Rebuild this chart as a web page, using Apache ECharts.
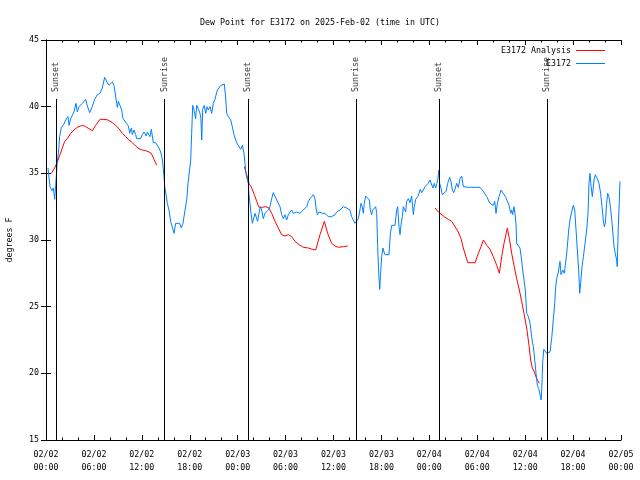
<!DOCTYPE html>
<html>
<head>
<meta charset="utf-8">
<script src="https://cdn.jsdelivr.net/npm/echarts@6/dist/echarts.min.js"></script>
<style>html,body{margin:0;padding:0;background:#fff}#c{width:640px;height:480px}</style>
</head>
<body>
<div id="c"></div>
<script>
// Hours since 2025-02-02 00:00 UTC
var xTickLabels = ['02/02\n00:00','02/02\n06:00','02/02\n12:00','02/02\n18:00','02/03\n00:00','02/03\n06:00','02/03\n12:00','02/03\n18:00','02/04\n00:00','02/04\n06:00','02/04\n12:00','02/04\n18:00','02/05\n00:00'];
var yTicks = [15, 20, 25, 30, 35, 40, 45];

var sunTimes = [1.29, 14.84, 25.33, 38.84, 49.25, 62.74];
var sunLabels = ['Sunset', 'Sunrise', 'Sunset', 'Sunrise', 'Sunset', 'Sunrise'];

// E3172 observations [hour, dew point F]
var obsTimes = [0.25,0.5,0.75,0.92,1.09,1.21,1.29,1.42,1.59,1.71,1.92,2.25,2.46,2.75,2.88,3.09,3.5,3.76,3.92,4.13,4.55,4.97,5.18,5.47,5.8,6.09,6.43,6.76,7.05,7.34,7.68,7.89,8.1,8.31,8.51,8.64,8.85,8.93,9.06,9.27,9.48,9.64,9.85,10.06,10.31,10.48,10.69,10.81,11.02,11.23,11.35,11.85,12.06,12.27,12.56,12.69,13.02,13.19,13.44,13.73,13.94,14.15,14.36,14.56,14.78,14.86,15.03,15.19,15.4,15.61,15.82,16.03,16.24,16.44,16.74,16.94,17.15,17.37,17.62,17.78,17.99,18.12,18.24,18.37,18.53,18.74,
  18.87,19.07,19.24,19.4,19.5,19.62,19.82,20.0,20.16,20.33,20.54,20.75,20.95,21.16,21.45,21.66,21.91,22.08,22.33,22.5,22.63,22.83,23.13,23.33,23.54,23.75,23.96,24.17,24.38,24.59,24.79,24.92,25.04,25.21,25.33,25.42,25.54,25.67,25.84,26.01,26.17,26.34,26.5,26.67,26.84,27.0,27.21,27.42,27.63,27.84,28.05,28.26,28.46,28.68,28.89,29.09,29.3,29.51,29.72,29.93,30.14,30.34,30.55,30.76,30.97,31.18,31.39,31.6,31.8,32.01,32.22,32.43,32.64,32.85,33.06,33.27,33.48,33.68,33.81,33.97,34.18,34.4,34.65,34.94,35.15,35.35,35.77,35.98,36.19,36.4,36.61,36.81,37.02,37.23,
  37.44,37.65,37.86,38.06,38.27,38.48,38.69,38.9,39.1,39.31,39.44,39.6,39.73,39.86,40.03,40.28,40.49,40.61,40.78,40.91,41.07,41.28,41.41,41.53,41.66,41.79,41.87,42.03,42.2,42.32,42.45,42.66,42.95,43.12,43.29,43.5,43.7,43.91,44.04,44.2,44.33,44.45,44.62,44.74,44.87,45.04,45.16,45.37,45.58,45.79,46.0,46.12,46.29,46.54,46.7,46.87,47.04,47.25,47.45,47.66,47.87,48.08,48.29,48.45,48.62,48.79,48.95,49.08,49.2,49.29,49.46,49.62,49.87,50.09,50.3,50.55,50.71,50.88,51.05,51.21,51.42,51.63,51.84,52.05,52.26,52.47,52.88,53.3,53.51,53.93,54.35,54.56,54.77,54.98,55.19,55.39,
  55.6,55.81,56.01,56.19,56.35,56.52,56.73,56.98,57.19,57.35,57.56,57.77,57.98,58.19,58.31,58.44,58.6,58.73,58.85,58.94,59.14,59.35,59.56,59.69,59.85,60.02,60.19,60.4,60.61,60.77,60.9,61.03,61.2,61.36,61.53,61.7,61.87,62.0,62.08,62.2,62.33,62.49,62.7,62.9,63.11,63.32,63.52,63.7,63.82,63.95,64.15,64.36,64.49,64.7,64.9,65.11,65.28,65.45,65.61,65.82,66.03,66.21,66.37,66.53,66.7,66.83,66.95,67.12,67.29,67.5,67.7,67.87,67.99,68.12,68.24,68.41,68.62,68.78,69.03,69.24,69.45,69.62,69.78,69.91,70.04,70.2,70.33,70.49,70.62,70.83,70.99,71.12,71.28,71.45,71.53,71.66,71.78,71.87];
var obsDewpt = [35.4,34.0,33.7,33.9,33.05,34.1,34.8,35.9,36.75,37.75,38.45,38.7,39.0,39.25,38.6,39.1,39.6,40.25,39.6,40.0,40.25,40.55,40.05,39.55,40.0,40.55,40.9,41.0,41.4,42.2,41.8,41.6,41.75,41.85,41.6,41.1,40.25,39.95,40.4,40.25,39.75,39.1,39.25,38.75,38.55,38.0,38.4,37.9,38.25,37.9,37.6,37.6,37.9,38.1,37.8,38.1,37.75,38.3,37.3,37.3,37.2,36.9,36.6,36.1,34.75,34.0,33.4,32.75,32.25,31.4,31.5,30.5,31.25,31.4,31.25,30.9,31.25,32.1,33.0,34.25,34.4,36.0,38.0,40.1,39.75,39.1,
  40.1,40.1,39.6,39.1,37.5,39.8,40.1,39.5,40.0,39.75,40.0,39.5,40.25,40.55,41.25,41.4,41.6,41.7,41.7,40.65,39.5,39.25,39.0,38.5,37.9,37.5,37.2,37.0,36.8,37.1,36.5,35.75,35.0,34.5,34.25,33.4,32.75,32.0,31.25,31.25,32.0,32.1,31.4,32.0,32.5,32.25,31.6,32.0,32.1,32.25,32.5,33.1,33.55,33.4,33.0,32.9,32.5,31.9,31.6,31.9,31.5,31.9,32.0,32.25,32.0,31.9,32.1,32.25,32.0,31.9,32.25,32.4,32.5,32.9,33.1,33.25,33.4,33.1,32.4,31.9,32.1,32.1,32.0,32.0,31.9,31.75,31.75,31.9,31.9,32.1,32.1,32.25,32.1,32.5,
  32.6,32.4,32.25,32.25,31.75,31.5,31.25,31.4,31.6,32.25,32.75,32.5,32.0,32.75,33.3,33.3,33.0,32.25,31.9,32.25,32.1,32.5,32.0,29.5,27.5,26.3,27.25,28.75,29.4,29.1,28.9,28.9,28.9,30.5,31.1,31.1,31.1,32.25,32.5,31.0,30.4,31.1,31.75,32.5,32.6,32.1,32.9,33.1,32.8,33.3,31.9,32.5,33.05,33.25,33.5,33.8,33.55,33.75,34.0,34.05,34.25,34.5,34.6,33.9,34.25,33.9,34.25,34.6,35.25,34.25,33.9,33.4,33.3,33.65,34.25,34.7,34.4,33.75,33.55,33.8,34.25,33.95,34.6,34.8,34.0,33.95,33.95,33.95,34.0,33.95,33.95,33.9,33.65,33.55,33.25,33.0,
  32.75,32.9,32.6,32.9,32.0,32.75,33.25,33.75,33.6,33.4,33.2,33.25,32.6,32.0,32.25,31.9,32.5,32.0,31.25,29.75,29.6,29.4,28.5,27.75,27.0,26.25,24.5,24.25,23.75,23.0,22.35,22.0,21.0,20.0,19.1,18.85,18.75,18.0,18.85,20.9,21.8,21.8,21.5,21.4,21.6,22.6,24.0,25.25,26.5,27.1,27.6,28.4,27.4,27.75,27.5,28.5,29.5,30.75,31.5,32.1,32.6,32.25,30.75,29.25,27.75,26.0,26.75,28.0,28.75,29.75,30.75,32.0,34.25,35.0,34.1,33.25,34.5,34.9,34.6,34.25,33.5,32.5,31.5,31.0,31.25,32.75,33.5,33.25,32.75,31.6,30.5,29.5,29.0,28.5,28.0,31.0,32.75,34.4];

// E3172 Analysis [hour, dew point F]; null separates gaps
var anaTimes = [0.67,1.09,1.42,1.75,2.04,2.34,2.67,3.09,3.5,3.92,4.34,4.67,4.97,5.38,5.8,6.22,6.76,7.26,7.76,8.31,8.72,9.14,9.56,9.97,10.39,10.81,11.23,11.65,12.06,12.48,12.9,13.19,13.52,13.86,
  19.0,
  24.83,25.13,25.42,25.76,26.09,26.38,26.67,27.0,27.51,27.92,28.26,28.68,29.09,29.51,29.93,30.34,30.76,31.18,31.68,32.22,32.85,33.35,33.77,34.31,34.85,35.27,35.77,36.19,36.61,37.23,37.78,
  43.0,
  48.71,49.13,49.55,49.96,50.38,50.8,51.21,51.63,51.97,52.26,52.57,52.82,53.23,53.73,54.07,54.48,54.77,55.19,55.6,56.01,56.44,56.77,57.06,57.35,57.77,58.02,58.31,58.6,58.94,59.27,59.56,59.85,60.19,60.48,60.69,60.9,61.15,61.44,61.77];
var anaDewpt = [35.0,35.4,35.85,36.4,36.9,37.4,37.6,38.0,38.25,38.45,38.55,38.6,38.5,38.35,38.2,38.6,39.05,39.05,39.0,38.8,38.6,38.35,38.0,37.75,37.5,37.3,37.05,36.85,36.75,36.7,36.6,36.5,36.05,35.6,
  null,
  35.5,34.9,34.25,33.9,33.4,32.9,32.45,32.45,32.5,32.4,32.0,31.4,30.9,30.4,30.3,30.4,30.25,29.9,29.65,29.45,29.4,29.3,29.25,30.4,31.4,30.5,29.75,29.55,29.45,29.5,29.55,
  null,
  32.4,32.1,31.9,31.7,31.55,31.4,31.0,30.6,30.1,29.4,28.75,28.3,28.3,28.3,28.9,29.5,30.0,29.6,29.3,28.75,28.1,27.5,28.75,29.75,30.9,30.1,29.0,28.1,27.1,26.25,25.4,24.5,23.4,22.1,21.0,20.4,20.1,19.6,19.25];

function zip(a, b) { return a.map(function (t, i) { return [t, b[i]]; }); }

var FONT = 'DejaVu Sans Mono';
var FS = 8.3;
var chart = echarts.init(document.getElementById('c'), null, { renderer: 'canvas' });

var sunLineData = sunTimes.map(function (t) { return [{ coord: [t, 15] }, { coord: [t, 40.58] }]; });

var option = {
  animation: false,
  backgroundColor: '#ffffff',
  textStyle: { fontFamily: FONT, fontSize: FS, color: '#000' },
  title: {
    text: 'Dew Point for E3172 on 2025-Feb-02 (time in UTC)',
    left: 'center', top: 14,
    textStyle: { fontFamily: FONT, fontSize: FS, fontWeight: 'normal', color: '#000' }
  },
  legend: {
    orient: 'vertical', align: 'right', right: 30, top: 41,
    itemWidth: 29, itemHeight: 1, itemGap: 4, icon: 'rect',
    textStyle: { fontFamily: FONT, fontSize: FS, color: '#000', lineHeight: 9 },
    data: ['E3172 Analysis', 'E3172']
  },
  grid: { left: 46, right: 19, top: 40, bottom: 40, containLabel: false, outerBoundsMode: 'none' },
  xAxis: [{
    type: 'value', min: 0, max: 72, interval: 6,
    axisLine: { lineStyle: { color: '#000', width: 1 } },
    axisTick: { inside: true, length: 5, lineStyle: { color: '#000' } },
    minorTick: { show: true, splitNumber: 3, length: 2.5, lineStyle: { color: '#000' } },
    splitLine: { show: false },
    axisLabel: {
      margin: 8, fontFamily: FONT, fontSize: FS, color: '#000', lineHeight: 13,
      formatter: function (v) { return xTickLabels[Math.round(v / 6)]; }
    }
  }, {
    type: 'value', position: 'top', min: 0, max: 72, interval: 6,
    axisLine: { lineStyle: { color: '#000', width: 1 } },
    axisTick: { inside: true, length: 5, lineStyle: { color: '#000' } },
    minorTick: { show: true, splitNumber: 3, length: 2.5, lineStyle: { color: '#000' } },
    splitLine: { show: false }, axisLabel: { show: false }
  }],
  yAxis: [{
    type: 'value', min: 15, max: 45, interval: 5,
    name: 'degrees F', nameLocation: 'middle', nameGap: 32, nameRotate: 90,
    nameTextStyle: { fontFamily: FONT, fontSize: FS, color: '#000' },
    axisLine: { show: true, lineStyle: { color: '#000', width: 1 } },
    axisTick: { show: true, inside: true, length: 5, lineStyle: { color: '#000' } },
    splitLine: { show: false },
    axisLabel: { margin: 7, fontFamily: FONT, fontSize: FS, color: '#000' }
  }, {
    type: 'value', position: 'right', min: 15, max: 45, interval: 5,
    axisLine: { show: true, lineStyle: { color: '#000', width: 1 } },
    axisTick: { show: true, inside: true, length: 5, lineStyle: { color: '#000' } },
    splitLine: { show: false }, axisLabel: { show: false }
  }],
  series: [{
    name: 'E3172 Analysis', type: 'line', data: zip(anaTimes, anaDewpt),
    showSymbol: false, symbol: 'none', connectNulls: false,
    lineStyle: { color: '#ff0000', width: 1 }, itemStyle: { color: '#ff0000' }
  }, {
    name: 'E3172', type: 'line', data: zip(obsTimes, obsDewpt),
    showSymbol: false, symbol: 'none',
    lineStyle: { color: '#0080ff', width: 1 }, itemStyle: { color: '#0080ff' }
  }, {
    name: 'sun', type: 'scatter', symbolSize: 0, silent: true,
    data: sunTimes.map(function (t) { return [t, 41.1]; }),
    label: {
      show: true, position: 'inside', rotate: 90, align: 'left', verticalAlign: 'middle',
      fontFamily: FONT, fontSize: FS, color: '#000',
      formatter: function (p) { return sunLabels[p.dataIndex]; }
    },
    markLine: {
      silent: true, symbol: 'none', animation: false,
      label: { show: false },
      lineStyle: { color: '#000', width: 1, type: 'solid' },
      emphasis: { disabled: true },
      data: sunLineData
    }
  }]
};
chart.setOption(option);
</script>
</body>
</html>
